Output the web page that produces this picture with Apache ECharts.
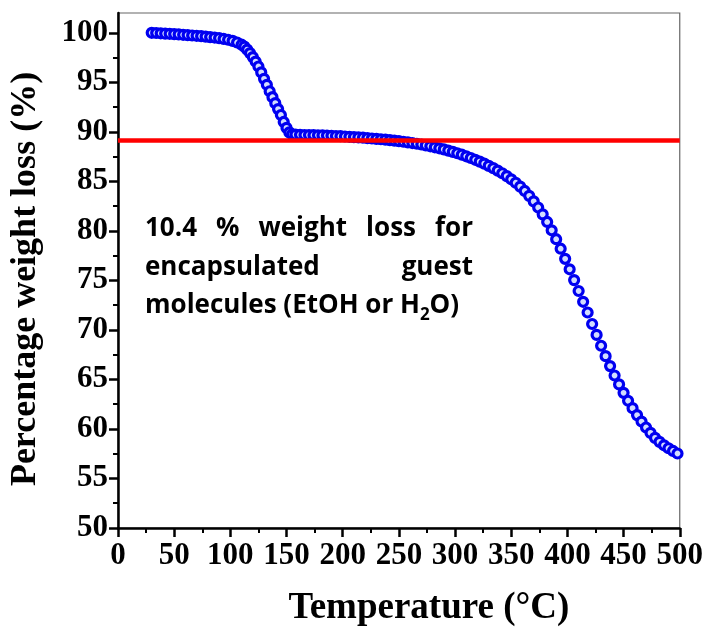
<!DOCTYPE html>
<html>
<head>
<meta charset="utf-8">
<script src="https://cdn.jsdelivr.net/npm/echarts@6/dist/echarts.min.js"></script>
<style>
  html, body { margin: 0; padding: 0; background: #fff; }
  #chart { width: 706px; height: 632px; }
</style>
</head>
<body>
<div id="chart"></div>
<script>
// TGA curve: temperature (°C) and remaining weight (%)
const temperature = [
  30, 34, 38, 42, 46, 50, 54, 58, 62, 66, 70, 74, 78, 82, 86, 90, 94, 98, 102, 106, 110,
  112.5, 115, 117.5, 120, 122.5, 125, 127.5, 130, 132.5, 135, 137.5, 140, 142.5, 145, 147.5, 150, 152.5, 155,
  158, 162, 166, 170, 174, 178, 182, 186, 190, 194, 198, 202, 206, 210, 214, 218, 222, 226, 230, 234,
  238, 242, 246, 250, 254, 258, 262, 266, 270, 274, 278, 282, 286, 290, 294, 298, 302, 306, 310, 314,
  318, 322, 326, 330, 334, 338, 342, 346, 350, 354, 358, 362, 366, 370, 374, 378, 382, 386, 390, 394,
  398, 402, 406, 410, 414, 418, 422, 426, 430, 434, 438, 442, 446, 450, 454, 458, 462, 466, 470, 474,
  478, 482, 486, 490, 494, 498
];
const weightPct = [
  100.0, 99.98, 99.95, 99.92, 99.9, 99.87, 99.84, 99.8, 99.77, 99.73, 99.7, 99.66, 99.62, 99.57, 99.52, 99.46, 99.38, 99.3, 99.18, 99.02, 98.8,
  98.6, 98.3, 97.95, 97.55, 97.1, 96.6, 96.0, 95.35, 94.75, 94.1, 93.5, 92.9, 92.3, 91.7, 91.0, 90.4, 89.95, 89.75,
  89.72, 89.70, 89.68, 89.67, 89.66, 89.65, 89.64, 89.62, 89.60, 89.58, 89.56, 89.53, 89.50, 89.47, 89.44, 89.41, 89.37, 89.33, 89.29, 89.25,
  89.21, 89.16, 89.11, 89.06, 89.00, 88.94, 88.87, 88.80, 88.72, 88.63, 88.54, 88.44, 88.34, 88.23, 88.11, 87.98, 87.84, 87.69, 87.53, 87.36,
  87.18, 86.99, 86.79, 86.57, 86.34, 86.09, 85.82, 85.53, 85.21, 84.86, 84.47, 84.03, 83.54, 82.98, 82.36, 81.67, 80.90, 80.06, 79.16, 78.20,
  77.18, 76.12, 75.03, 73.93, 72.84, 71.76, 70.60, 69.50, 68.40, 67.35, 66.35, 65.40, 64.50, 63.65, 62.85, 62.10, 61.40, 60.75, 60.15, 59.60,
  59.10, 58.70, 58.35, 58.05, 57.78, 57.52
];

// weight level after loss of the guest molecules
const guestLossLevel = 89.2;

// y-axis ticks
const yMajorTicks = [50, 55, 60, 65, 70, 75, 80, 85, 90, 95, 100];
const yMinorTicks = [52.5, 57.5, 62.5, 67.5, 72.5, 77.5, 82.5, 87.5, 92.5, 97.5];

// annotation text
const noteLine1 = ['10.4', '%', 'weight', 'loss', 'for'];
const noteLine2 = ['encapsulated', 'guest'];
const noteLine3 = ['molecules (EtOH or H', '2', 'O)'];

const serif = "'Liberation Serif', 'Times New Roman', serif";
const noteFont = "bold 26px 'Open Sans'";
const subFont = "bold 17px 'Open Sans'";

const chart = echarts.init(document.getElementById('chart'), null, { renderer: 'canvas' });

const measureCtx = document.createElement('canvas').getContext('2d');
function textWidth(str, font) {
  measureCtx.font = font;
  return measureCtx.measureText(str).width;
}

// justified text block
function buildNote() {
  const left = 145, right = 473;
  const base = [239, 277.5, 316];
  const mid = 10;
  const els = [];
  const widths = noteLine1.map(w => textWidth(w, noteFont));
  const total = widths.reduce((a, b) => a + b, 0);
  const gap = (right - left - total) / (noteLine1.length - 1);
  let x = left;
  noteLine1.forEach((w, i) => {
    els.push({ type: 'text', style: { text: w, x: x, y: base[0] - mid, font: noteFont, fill: '#000', textAlign: 'left', textVerticalAlign: 'middle' } });
    x += widths[i] + gap;
  });
  els.push({ type: 'text', style: { text: noteLine2[0], x: left, y: base[1] - mid, font: noteFont, fill: '#000', textAlign: 'left', textVerticalAlign: 'middle' } });
  els.push({ type: 'text', style: { text: noteLine2[1], x: right, y: base[1] - mid, font: noteFont, fill: '#000', textAlign: 'right', textVerticalAlign: 'middle' } });
  let x3 = left;
  els.push({ type: 'text', style: { text: noteLine3[0], x: x3, y: base[2] - mid, font: noteFont, fill: '#000', textAlign: 'left', textVerticalAlign: 'middle' } });
  x3 += textWidth(noteLine3[0], noteFont);
  els.push({ type: 'text', style: { text: noteLine3[1], x: x3, y: base[2] - 1, font: subFont, fill: '#000', textAlign: 'left', textVerticalAlign: 'middle' } });
  x3 += textWidth(noteLine3[1], subFont);
  els.push({ type: 'text', style: { text: noteLine3[2], x: x3, y: base[2] - mid, font: noteFont, fill: '#000', textAlign: 'left', textVerticalAlign: 'middle' } });
  return els.map(e => Object.assign(e, { z: 100 }));
}

const points = temperature.map((t, i) => [t, weightPct[i]]);

const option = {
  animation: false,
  backgroundColor: '#fff',
  grid: {
    left: 117, right: 24, top: 13, bottom: 102,
    show: true, borderColor: '#666', borderWidth: 1.2, backgroundColor: 'transparent'
  },
  xAxis: {
    type: 'value', min: 0, max: 500, interval: 50,
    axisLine: { onZero: false, lineStyle: { color: '#000', width: 2.5 } },
    axisTick: { inside: false, length: 9, lineStyle: { color: '#000', width: 2.5 } },
    minorTick: { show: true, splitNumber: 2, length: 5, lineStyle: { color: '#000', width: 2 } },
    splitLine: { show: false }, minorSplitLine: { show: false },
    axisLabel: { margin: 12, color: '#000', fontFamily: serif, fontWeight: 'bold', fontSize: 31 },
    name: 'Temperature (°C)', nameLocation: 'middle', nameGap: 62,
    nameTextStyle: { color: '#000', fontFamily: serif, fontWeight: 'bold', fontSize: 37, padding: [0, 0, 0, 60] }
  },
  yAxis: [
    {
      type: 'value', min: 50, max: 102, interval: 5,
      axisLine: { onZero: false, lineStyle: { color: '#000', width: 2.5 } },
      axisTick: { inside: false, length: 9, customValues: yMajorTicks, lineStyle: { color: '#000', width: 2.5 } },
      splitLine: { show: false },
      axisLabel: { margin: 10, customValues: yMajorTicks, color: '#000', fontFamily: serif, fontWeight: 'bold', fontSize: 31 },
      name: 'Percentage weight loss (%)', nameLocation: 'middle', nameGap: 74, nameRotate: 90,
      nameTextStyle: { color: '#000', fontFamily: serif, fontWeight: 'bold', fontSize: 36, padding: [0, 17, 0, 0] }
    },
    {
      type: 'value', min: 50, max: 102, position: 'left',
      axisLine: { show: false },
      axisTick: { show: true, inside: false, length: 5, customValues: yMinorTicks, lineStyle: { color: '#000', width: 2 } },
      axisLabel: { show: false },
      splitLine: { show: false }
    }
  ],
  series: [
    {
      type: 'line', data: [], z: 1, silent: true,
      markLine: {
        silent: true, symbol: 'none', animation: false,
        label: { show: false },
        lineStyle: { color: '#ff0000', width: 4.5, type: 'solid' },
        data: [{ yAxis: guestLossLevel }]
      }
    },
    {
      type: 'scatter', data: points, z: 3,
      symbol: 'circle', symbolSize: 9,
      itemStyle: { color: '#d2dcff', borderColor: '#0000f0', borderWidth: 3.2, opacity: 1 }
    }
  ],
  graphic: buildNote()
};

chart.setOption(option);
</script>
</body>
</html>
